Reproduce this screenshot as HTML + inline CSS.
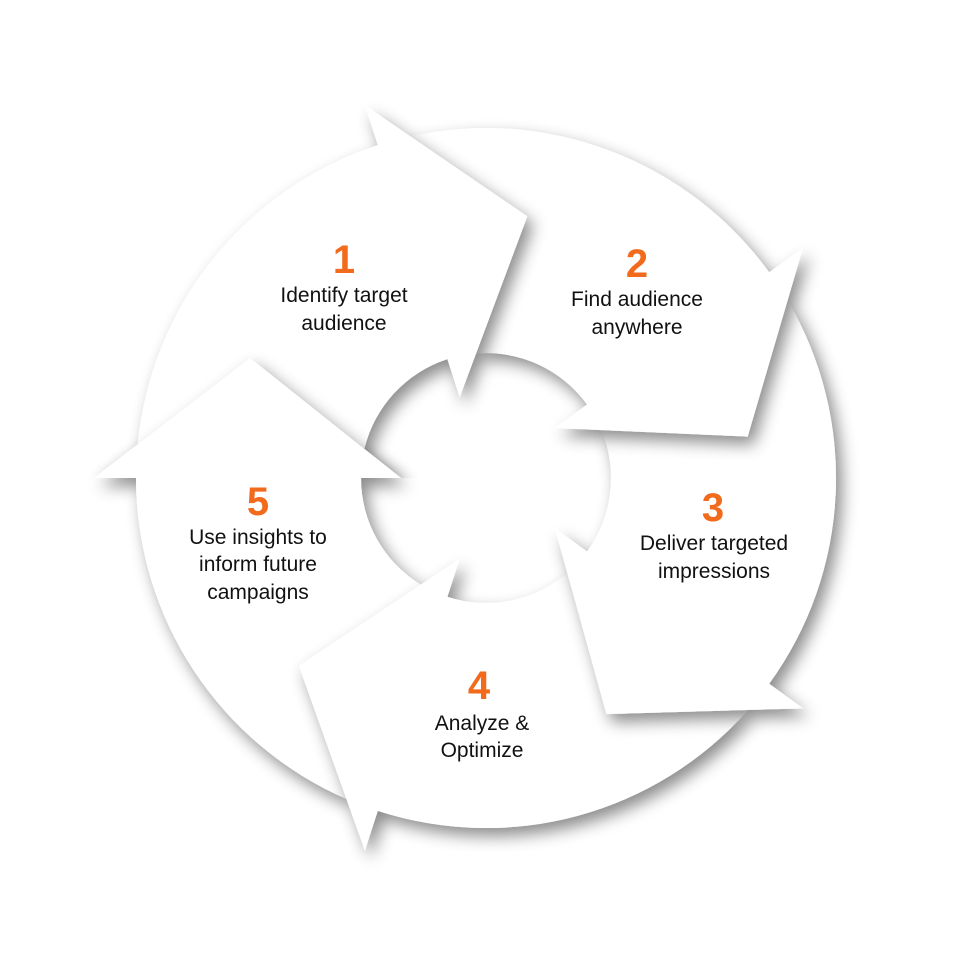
<!DOCTYPE html>
<html><head><meta charset="utf-8"><style>
html,body{margin:0;padding:0;background:#fff;}
svg{display:block;}
.n{font-family:"Liberation Sans",sans-serif;font-weight:bold;font-size:40px;fill:#f26a1b;text-anchor:middle;}
.t{font-family:"Liberation Sans",sans-serif;font-size:21px;fill:#111;text-anchor:middle;}
</style></head><body>
<svg width="960" height="959" viewBox="0 0 960 959" xmlns="http://www.w3.org/2000/svg">
<defs>
<filter id="sh" x="-30%" y="-30%" width="160%" height="160%">
<feDropShadow dx="6" dy="8" stdDeviation="8" flood-color="#000" flood-opacity="0.45"/>
</filter>
<clipPath id="c5"><rect x="0" y="0" width="960" height="478"/></clipPath>
</defs>
<g fill="#fff" filter="url(#sh)">
<path d="M346.5,799 A350,350 0 0 1 136,478 L94,478 L249.9,357.7 L401,478 L361,478 A125,125 0 0 0 420.7,584.6 L298.6,665.4 Z"/>
</g>
<g fill="#fff" filter="url(#sh)">
<path d="M748.2,709.9 A350,350 0 0 1 377.8,810.9 L364.9,850.8 L298.6,665.4 L459.7,558.8 L447.4,596.9 A125,125 0 0 0 567.2,573.1 L606.3,714.1 Z"/>
</g>
<g fill="#fff" filter="url(#sh)">
<path d="M787.6,300.4 A350,350 0 0 1 769.2,683.7 L803.1,708.4 L606.3,714.1 L554.8,528 L587.1,551.5 A125,125 0 0 0 601.5,430.2 L747.7,436.6 Z"/>
</g>
<g fill="#fff" filter="url(#sh)">
<path d="M410.3,136.3 A350,350 0 0 1 769.2,272.3 L803.1,247.6 L747.7,436.6 L554.8,428 L587.1,404.5 A125,125 0 0 0 476.2,353.4 L527.4,216.3 Z"/>
</g>
<g fill="#fff" filter="url(#sh)">
<path d="M137.6,444.5 A350,350 0 0 1 377.8,145.1 L364.9,105.2 L527.4,216.3 L459.7,397.2 L447.4,359.1 A125,125 0 0 0 364.4,448.8 L249.9,357.7 Z"/>
</g>
<g clip-path="url(#c5)">
<polygon fill="#fff" filter="url(#sh)" points="401,478 94,478 249.9,357.7"/>
</g>
<text class="n" x="344" y="273">1</text>
<text class="t" x="344" y="302">Identify target</text>
<text class="t" x="344" y="330">audience</text>
<text class="n" x="637" y="277">2</text>
<text class="t" x="637" y="306">Find audience</text>
<text class="t" x="637" y="334">anywhere</text>
<text class="n" x="713" y="521">3</text>
<text class="t" x="714" y="550">Deliver targeted</text>
<text class="t" x="714" y="578">impressions</text>
<text class="n" x="479" y="699">4</text>
<text class="t" x="482" y="730">Analyze &amp;</text>
<text class="t" x="482" y="757">Optimize</text>
<text class="n" x="258" y="515">5</text>
<text class="t" x="258" y="544">Use insights to</text>
<text class="t" x="258" y="571">inform future</text>
<text class="t" x="258" y="599">campaigns</text>
</svg>
</body></html>
